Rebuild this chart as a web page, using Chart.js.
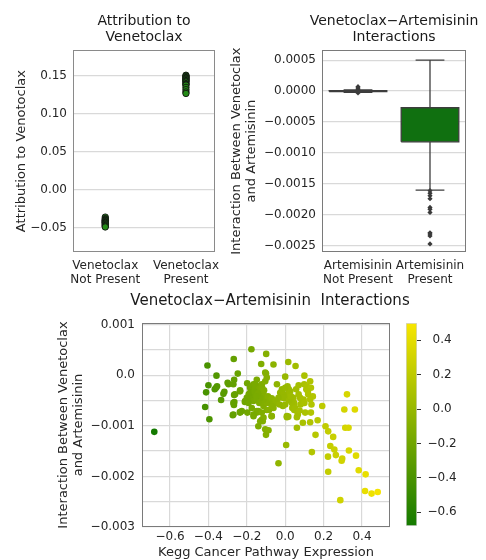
<!DOCTYPE html>
<html>
<head>
<meta charset="utf-8">
<script src="https://cdn.jsdelivr.net/npm/chart.js@4.4.1/dist/chart.umd.min.js"></script>
<style>
  body { margin: 0; background: #fff; }
  #wrap { position: relative; width: 486px; height: 560px; }
  canvas { position: absolute; }
</style>
</head>
<body>
<div id="wrap">
  <canvas id="stripChart" width="225" height="290" style="left:0px;top:0px"></canvas>
  <canvas id="boxChart" width="261" height="290" style="left:225px;top:0px"></canvas>
  <canvas id="scatterChart" width="486" height="275" style="left:0px;top:285px"></canvas>
  <canvas id="colorBar" width="96" height="275" style="left:390px;top:285px"></canvas>
</div>
<script>
// ---- data ----
const stripCategories = [["Venetoclax", "Not Present"], ["Venetoclax", "Present"]];
const attrNotPresent = [-0.036, -0.038, -0.039, -0.040, -0.041, -0.041, -0.042, -0.043, -0.043,
  -0.044, -0.045, -0.046, -0.047, -0.048, -0.049];
const attrPresent = [0.151, 0.150, 0.149, 0.148, 0.147, 0.146, 0.145, 0.144, 0.143, 0.142,
  0.140, 0.139, 0.138, 0.135, 0.132, 0.129, 0.127];

const boxCategories = [["Artemisinin", "Not Present"], ["Artemisinin", "Present"]];
const boxQ1 = [-0.000008, -0.00082];
const boxMedian = [0, -0.00053];
const boxQ3 = [0.000008, -0.00027];
const whiskerLow = [-0.00002, -0.0016];
const whiskerHigh = [0.00002, 0.0005];
const boxOutliers = [
  [-0.00003, 0.00001, 0.00003, 0.00005, 0.00007],
  [-1.61e-3, -1.65e-3, -1.69e-3, -1.74e-3, -1.88e-3, -1.91e-3, -1.96e-3, -2.29e-3, -2.31e-3, -2.34e-3, -2.47e-3]
];

const keggExpression = [-0.682,-0.405,-0.358,-0.40,-0.412,-0.36,-0.367,-0.355,-0.317,-0.322,
  -0.30,-0.295,-0.266,-0.27,-0.334,-0.417,-0.395,-0.266,-0.265,-0.267,
  -0.235,-0.236,-0.273,-0.268,-0.247,-0.176,-0.099,-0.125,-0.061,0.016,
  0.054,-0.10,-0.104,0.0,0.10,0.13,-0.198,-0.197,-0.21,-0.19,
  -0.183,-0.174,-0.165,-0.157,-0.148,-0.139,-0.130,-0.122,-0.113,-0.104,
  -0.096,-0.183,-0.174,-0.165,-0.148,-0.135,-0.122,-0.113,-0.096,-0.082,
  -0.070,-0.061,-0.043,-0.165,-0.148,-0.139,-0.122,-0.117,-0.14,-0.104,
  -0.087,-0.10,-0.071,-0.096,-0.084,-0.043,-0.026,-0.017,-0.005,0.009,
  0.017,0.026,0.012,0.019,-0.012,0.009,0.016,0.005,-0.035,0.037,
  0.047,0.061,0.066,0.061,0.057,0.070,0.078,0.096,0.040,0.047,
  0.087,0.099,0.113,0.110,0.134,0.118,0.144,0.13,0.137,0.134,
  0.104,0.092,0.13,0.061,0.158,0.139,0.169,0.193,0.21,0.224,
  0.25,0.235,0.256,0.264,0.223,0.297,0.294,0.224,0.322,0.308,
  0.363,0.313,0.33,0.332,0.369,0.383,0.419,0.416,0.45,0.482,
  0.287,-0.157,-0.130,-0.017,0.0,0.02,-0.009,0.043,0.035,0.052,
  -0.009,-0.035,-0.061,-0.07,-0.096,-0.113,-0.13,-0.157,-0.183,-0.2,
  -0.209,-0.191,-0.174,-0.148,-0.122,-0.113,-0.165,-0.13,-0.07,0.0,
  0.009,0.075,-0.235,-0.226,-0.261,-0.27,-0.27,-0.235,-0.16,-0.14,
  -0.12,-0.11,-0.15,-0.09,-0.07,-0.05,-0.03,0.02,0.03,0.08,
  0.10,0.12,0.07];
const interaction = [-1.12e-3,0.19e-3,-0.01e-3,-0.20e-3,-0.34e-3,-0.25e-3,-0.28e-3,-0.22e-3,-0.33e-3,-0.37e-3,
  -0.15e-3,-0.18e-3,-0.09e-3,-0.18e-3,-0.49e-3,-0.63e-3,-0.87e-3,-0.39e-3,-0.53e-3,-0.59e-3,
  -0.30e-3,-0.73e-3,-0.79e-3,0.32e-3,0.03e-3,0.51e-3,0.42e-3,0.22e-3,0.21e-3,0.26e-3,
  0.18e-3,0.03e-3,0.05e-3,-0.03e-3,-0.01e-3,-0.12e-3,-0.16e-3,-0.74e-3,-0.53e-3,-0.38e-3,
  -0.25e-3,-0.22e-3,-0.18e-3,-0.28e-3,-0.09e-3,-0.22e-3,-0.32e-3,-0.18e-3,-0.38e-3,-0.12e-3,
  -0.05e-3,-0.45e-3,-0.41e-3,-0.51e-3,-0.48e-3,-0.55e-3,-0.51e-3,-0.61e-3,-0.51e-3,-0.55e-3,
  -0.58e-3,-0.65e-3,-0.55e-3,-0.81e-3,-0.74e-3,-0.71e-3,-0.88e-3,-0.91e-3,-1.01e-3,-1.07e-3,
  -1.09e-3,-1.18e-3,-0.81e-3,-0.69e-3,-0.69e-3,-0.18e-3,-0.35e-3,-0.32e-3,-0.45e-3,-0.41e-3,
  -0.35e-3,-0.32e-3,-0.22e-3,-0.28e-3,-0.61e-3,-0.83e-3,-0.82e-3,-1.38e-3,-1.74e-3,-0.65e-3,
  -0.69e-3,-0.71e-3,-0.78e-3,-0.83e-3,-0.28e-3,-0.38e-3,-0.45e-3,-0.48e-3,-0.51e-3,-0.55e-3,
  -0.51e-3,-0.18e-3,-0.22e-3,-0.28e-3,-0.25e-3,-0.32e-3,-0.42e-3,-0.48e-3,-0.58e-3,-0.74e-3,
  -0.74e-3,-0.94e-3,-0.93e-3,-1.04e-3,-1.18e-3,-1.52e-3,-0.89e-3,-0.61e-3,-1.01e-3,-1.11e-3,
  -1.22e-3,-1.40e-3,-1.47e-3,-1.58e-3,-1.61e-3,-1.65e-3,-1.69e-3,-1.91e-3,-0.38e-3,-0.68e-3,
  -0.68e-3,-1.04e-3,-1.04e-3,-1.49e-3,-1.59e-3,-1.88e-3,-1.96e-3,-2.29e-3,-2.34e-3,-2.31e-3,
  -2.47e-3,-0.18e-3,-0.25e-3,-0.28e-3,-0.25e-3,-0.37e-3,-0.38e-3,-0.45e-3,-0.55e-3,-0.65e-3,
  -0.45e-3,-0.45e-3,-0.55e-3,-0.61e-3,-0.55e-3,-0.48e-3,-0.45e-3,-0.38e-3,-0.35e-3,-0.45e-3,
  -0.51e-3,-0.55e-3,-0.65e-3,-0.71e-3,-0.74e-3,-0.84e-3,-0.78e-3,-0.91e-3,-0.81e-3,-0.58e-3,
  -0.81e-3,-0.70e-3,-0.32e-3,-0.71e-3,-0.38e-3,-0.55e-3,-0.78e-3,-0.74e-3,-0.33e-3,-0.36e-3,
  -0.25e-3,-0.30e-3,-0.42e-3,-0.42e-3,-0.46e-3,-0.50e-3,-0.58e-3,-0.50e-3,-0.42e-3,-0.58e-3,
  -0.55e-3,-0.38e-3,-0.20e-3];
const colorRange = [-0.68, 0.50];

// ---- styles ----
const colorLow = [20, 122, 0];
const colorHigh = [248, 230, 0];
const gridColor = "#d9d9d9";
const textColor = "#262626";
const MINUS = "\u2212";

Chart.defaults.font.family = "'DejaVu Sans', sans-serif";
Chart.defaults.color = textColor;
Chart.defaults.animation = false;

function fmt(v, digits) {
  return (v < -1e-12 ? MINUS : "") + Math.abs(v).toFixed(digits);
}
function cmap(v) {
  const t = Math.max(0, Math.min(1, (v - colorRange[0]) / (colorRange[1] - colorRange[0])));
  const c = colorLow.map((lo, k) => Math.round(lo + (colorHigh[k] - lo) * t));
  return "rgb(" + c.join(",") + ")";
}

// outline round the plot area (matplotlib spines)
const framePlugin = {
  id: "frame",
  afterLayout(chart, args, opts) {
    // let the title run wider than the plot area, still centred on it
    const t = chart.titleBlock;
    if (t) {
      const mid = (chart.chartArea.left + chart.chartArea.right) / 2 + (opts.titleShift || 0);
      t.left = mid - 200;
      t.right = mid + 200;
      t.width = 400;
    }
  },
  afterDraw(chart, args, opts) {
    const { ctx, chartArea: a } = chart;
    ctx.save();
    ctx.strokeStyle = opts.color || "#8a8a8a";
    ctx.lineWidth = 1;
    ctx.strokeRect(Math.round(a.left) + 0.5, Math.round(a.top) + 0.5,
      Math.round(a.right - a.left) - 1, Math.round(a.bottom - a.top) - 1);
    ctx.restore();
  },
};

const titleFont = { size: 14, weight: "normal", lineHeight: 1.15 };
const axisTitleFont = { size: 13, lineHeight: 1.15 };
const tickFont = { size: 12, lineHeight: 1.15 };

// ---- top left: strip plot ----
new Chart(document.getElementById("stripChart"), {
  type: "scatter",
  data: {
    datasets: [attrNotPresent, attrPresent].map((vals, i) => ({
      data: vals.map((v) => ({ x: i, y: v })),
      pointRadius: 3.2,
      pointBackgroundColor: "#238b16",
      pointBorderColor: "#111111",
      pointBorderWidth: 0.9,
    })),
  },
  options: {
    responsive: false,
    layout: { padding: { left: 0, right: 10, top: 0, bottom: 0 } },
    plugins: {
      legend: { display: false },
      tooltip: { enabled: false },
      title: {
        display: true,
        text: ["Attribution to", "Venetoclax"],
        font: titleFont,
        color: "#1a1a1a",
        padding: { top: 13, bottom: 5 },
        fullSize: false,
      },
      frame: { color: "#8a8a8a" },
    },
    scales: {
      x: {
        type: "linear",
        min: -0.4,
        max: 1.36,
        afterBuildTicks: (s) => { s.ticks = [{ value: 0 }, { value: 1 }]; },
        ticks: { callback: (v) => stripCategories[Math.round(v)], font: tickFont, padding: -1 },
        grid: { display: false },
        border: { display: false },
        afterFit: (s) => { s.height = 38; },
      },
      y: {
        min: -0.082,
        max: 0.184,
        ticks: { stepSize: 0.05, includeBounds: false, callback: (v) => fmt(v, 2), font: tickFont, padding: 6 },
        grid: { color: gridColor, lineWidth: 1.2, drawTicks: false },
        border: { display: false },
        title: { display: true, text: "Attribution to Venotoclax", font: axisTitleFont, padding: { top: 14.5, bottom: 0 } },
        afterFit: (s) => { s.width = 73; },
      },
    },
  },
  plugins: [framePlugin],
});

// ---- top right: box plot built from line segments ----
const boxHalf = 0.4;
const capHalf = 0.2;
const boxFill = ["#8c8c8c", "#107010"];
const boxLine = "#3d3d3d";
const boxDatasets = [];
function segment(x1, y1, x2, y2) {
  return {
    data: [{ x: x1, y: y1 }, { x: x2, y: y2 }],
    showLine: true, borderColor: boxLine, borderWidth: 1.3, pointRadius: 0, fill: false,
  };
}
boxCategories.forEach((cat, i) => {
  boxDatasets.push({
    data: [
      { x: i - boxHalf, y: boxQ1[i] }, { x: i + boxHalf, y: boxQ1[i] },
      { x: i + boxHalf, y: boxQ3[i] }, { x: i - boxHalf, y: boxQ3[i] },
      { x: i - boxHalf, y: boxQ1[i] },
    ],
    showLine: true, fill: "shape", backgroundColor: boxFill[i],
    borderColor: boxLine, borderWidth: 1.3, pointRadius: 0,
  });
  boxDatasets.push(segment(i, boxQ1[i], i, whiskerLow[i]));
  boxDatasets.push(segment(i, boxQ3[i], i, whiskerHigh[i]));
  boxDatasets.push(segment(i - capHalf, whiskerLow[i], i + capHalf, whiskerLow[i]));
  boxDatasets.push(segment(i - capHalf, whiskerHigh[i], i + capHalf, whiskerHigh[i]));
  boxDatasets.push(segment(i - boxHalf, boxMedian[i], i + boxHalf, boxMedian[i]));
  boxDatasets.push({
    data: boxOutliers[i].map((v) => ({ x: i, y: v })),
    pointStyle: "rectRot", pointRadius: 2.6,
    pointBackgroundColor: "#3a3a3a", pointBorderWidth: 0,
  });
});

new Chart(document.getElementById("boxChart"), {
  type: "scatter",
  data: { datasets: boxDatasets },
  options: {
    responsive: false,
    layout: { padding: { left: 0, right: 20, top: 0, bottom: 0 } },
    plugins: {
      legend: { display: false },
      tooltip: { enabled: false },
      title: {
        display: true,
        text: ["Venetoclax" + MINUS + "Artemisinin", "Interactions"],
        font: titleFont,
        color: "#1a1a1a",
        padding: { top: 13, bottom: 5 },
        fullSize: false,
      },
      frame: { color: "#7a7a7a" },
    },
    scales: {
      x: {
        type: "linear",
        min: -0.5,
        max: 1.5,
        afterBuildTicks: (s) => { s.ticks = [{ value: 0 }, { value: 1 }]; },
        ticks: { callback: (v) => boxCategories[Math.round(v)], font: tickFont, padding: -1 },
        grid: { display: false },
        border: { display: false },
        afterFit: (s) => { s.height = 38; },
      },
      y: {
        min: -0.0026,
        max: 0.00066,
        ticks: { stepSize: 0.0005, includeBounds: false, callback: (v) => fmt(v, 4), font: tickFont, padding: 6 },
        grid: { color: gridColor, lineWidth: 1.2, drawTicks: false },
        border: { display: false },
        title: {
          display: true,
          text: ["Interaction Between Venetoclax", "and Artemisinin"],
          font: axisTitleFont,
          padding: { top: 4.5, bottom: 0 },
        },
        afterFit: (s) => { s.width = 97; },
      },
    },
  },
  plugins: [framePlugin],
});

// ---- bottom: scatter coloured by expression ----
new Chart(document.getElementById("scatterChart"), {
  type: "scatter",
  data: {
    datasets: [{
      data: keggExpression.map((x, i) => ({ x: x, y: interaction[i] })),
      pointRadius: 3.3,
      pointBorderWidth: 0,
      pointBackgroundColor: keggExpression.map(cmap),
    }],
  },
  options: {
    responsive: false,
    layout: { padding: { left: 0, right: 96, top: 0, bottom: 0 } },
    plugins: {
      legend: { display: false },
      tooltip: { enabled: false },
      title: {
        display: true,
        text: "Venetoclax" + MINUS + "Artemisinin  Interactions",
        font: { size: 15, weight: "normal", lineHeight: 1.15 },
        color: "#1a1a1a",
        padding: { top: 7, bottom: 13.75 },
        fullSize: false,
      },
      frame: { color: "#7a7a7a", titleShift: 4 },
    },
    scales: {
      x: {
        min: -0.746,
        max: 0.546,
        ticks: { stepSize: 0.2, includeBounds: false, callback: (v) => fmt(v, 1), font: tickFont, padding: 3 },
        grid: { color: gridColor, lineWidth: 1.2, drawTicks: false },
        border: { display: false },
        title: { display: true, text: "Kegg Cancer Pathway Expression", font: axisTitleFont, padding: { top: 0, bottom: 0 } },
        afterFit: (s) => { s.height = 33; },
      },
      y: {
        min: -0.003,
        max: 0.00103,
        ticks: {
          stepSize: 0.0005,
          includeBounds: false,
          font: tickFont,
          padding: 7,
          callback: (v) => {
            const k = v / 0.001;
            if (Math.abs(k - Math.round(k)) > 1e-6) return "";
            return Math.abs(v) < 1e-12 ? "0.0" : fmt(v, 3);
          },
        },
        grid: { color: gridColor, lineWidth: 1.2, drawTicks: false },
        border: { display: false },
        title: {
          display: true,
          text: ["Interaction Between Venetoclax", "and Artemisinin"],
          font: axisTitleFont,
          padding: { top: 56.5, bottom: 0 },
        },
        afterFit: (s) => { s.width = 142; },
      },
    },
  },
  plugins: [framePlugin],
});

// ---- colour bar ----
new Chart(document.getElementById("colorBar"), {
  type: "bar",
  data: {
    labels: [""],
    datasets: [{
      data: [colorRange],
      backgroundColor: (ctx) => {
        const chart = ctx.chart;
        if (!chart.chartArea) return null;
        const y = chart.scales.y;
        const g = chart.ctx.createLinearGradient(0, y.getPixelForValue(colorRange[0]), 0, y.getPixelForValue(colorRange[1]));
        g.addColorStop(0, cmap(colorRange[0]));
        g.addColorStop(1, cmap(colorRange[1]));
        return g;
      },
      borderColor: "#d4d4d4",
      borderWidth: 1,
      borderSkipped: false,
      barPercentage: 1,
      categoryPercentage: 1,
    }],
  },
  options: {
    responsive: false,
    layout: { padding: { left: 16, right: 0, top: 38, bottom: 34 } },
    plugins: { legend: { display: false }, tooltip: { enabled: false } },
    scales: {
      x: { display: false },
      y: {
        position: "right",
        min: colorRange[0],
        max: colorRange[1],
        ticks: { stepSize: 0.2, includeBounds: false, callback: (v) => fmt(v, 1), font: tickFont, padding: 6.5, crossAlign: "center" },
        grid: { drawOnChartArea: false, drawTicks: true, tickLength: 4, tickColor: "#333333", tickWidth: 1 },
        border: { display: false },
        afterFit: (s) => { s.width = 69; },
      },
    },
  },
});
</script>
</body>
</html>
